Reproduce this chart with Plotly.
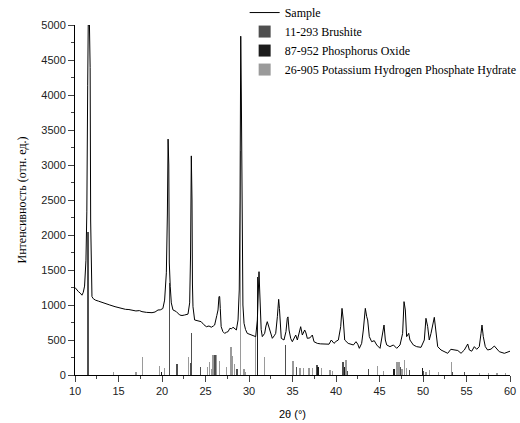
import plotly.graph_objects as go

# Sample XRD pattern (2theta, intensity)
sample_2theta = [10.0, 10.2, 10.4, 10.6, 10.8, 10.95, 11.1, 11.26, 11.36, 11.46, 11.52, 11.66, 11.74, 11.8, 11.88, 11.95,
                 12.1, 12.34, 12.7, 13.0, 13.5, 14.0, 14.6, 15.2, 15.8, 16.2, 16.55, 17.0, 17.4, 17.7, 18.2, 18.85,
                 19.2, 19.54, 19.8, 20.1, 20.3, 20.5, 20.62, 20.7, 20.78, 20.84, 20.95, 21.07, 21.26, 21.65, 22.03,
                 22.3, 22.6, 22.99, 23.18, 23.28, 23.37, 23.45, 23.5, 23.56, 23.75, 24.1, 24.5, 24.8, 25.1, 25.4,
                 25.67, 25.9, 26.05, 26.3, 26.44, 26.55, 26.63, 26.7, 26.8, 27.0, 27.2, 27.4, 27.6, 27.8, 28.0,
                 28.16, 28.35, 28.55, 28.74, 28.88, 28.97, 29.05, 29.12, 29.2, 29.3, 29.43, 29.6, 29.8, 30.1, 30.38,
                 30.6, 30.77, 30.96, 31.08, 31.15, 31.2, 31.3, 31.4, 31.53, 31.8, 31.95, 32.1, 32.25, 32.41, 32.68,
                 32.9, 33.07, 33.26, 33.41, 33.5, 33.6, 33.71, 34.02, 34.25, 34.4, 34.48, 34.6, 34.8, 34.98, 35.2,
                 35.37, 35.56, 35.8, 35.94, 36.13, 36.4, 36.55, 36.7, 37.0, 37.28, 37.47, 37.85, 38.2, 38.62, 39.2,
                 39.46, 39.77, 40.0, 40.27, 40.54, 40.69, 40.84, 41.0, 41.4, 41.7, 42.0, 42.3, 42.5, 42.68, 42.95,
                 43.14, 43.37, 43.53, 43.64, 43.83, 44.1, 44.4, 44.68, 45.06, 45.33, 45.52, 45.67, 45.83, 46.2,
                 46.6, 46.98, 47.36, 47.66, 47.82, 47.97, 48.12, 48.36, 48.5, 48.89, 49.27, 49.77, 50.15, 50.34,
                 50.54, 50.72, 50.92, 51.3, 51.5, 51.69, 52.07, 52.45, 52.84, 53.2, 53.6, 54.0, 54.37, 54.75,
                 55.14, 55.33, 55.6, 55.9, 56.17, 56.47, 56.67, 56.78, 56.93, 57.16, 57.43, 57.82, 58.2, 58.39,
                 58.77, 59.35, 59.6, 60.0]
sample_intensity = [1250, 1210, 1190, 1170, 1140, 1180, 1270, 1640, 2330, 4140, 5000, 5000, 4390, 2200, 1350, 1120,
                    1090, 1070, 1055, 1040, 1024, 1000, 976, 955, 938, 935, 929, 915, 920, 905, 895, 890,
                    900, 929, 930, 950, 1070, 1460, 2300, 3370, 3000, 1600, 1260, 1030, 930, 905, 857,
                    850, 857, 870, 1030, 1700, 3130, 2500, 1300, 976, 786, 770, 762, 720, 690, 700,
                    683, 700, 714, 850, 929, 1120, 1120, 950, 690, 620, 595, 610, 620, 667, 660,
                    683, 660, 643, 786, 1214, 2500, 4840, 4000, 1800, 1000, 738, 650, 595, 580, 571,
                    560, 548, 786, 1200, 1476, 1300, 900, 650, 548, 595, 700, 762, 700, 620, 524,
                    560, 595, 833, 1081, 950, 700, 524, 500, 620, 810, 830, 643, 520, 476, 540,
                    571, 500, 600, 690, 571, 643, 600, 524, 530, 571, 476, 452, 445, 440, 440,
                    500, 452, 480, 500, 690, 952, 786, 500, 452, 440, 429, 476, 440, 381, 452,
                    643, 952, 833, 786, 548, 476, 490, 429, 381, 548, 714, 500, 429, 405,
                    429, 381, 429, 595, 1048, 929, 548, 595, 500, 429, 405, 395, 500, 810,
                    690, 500, 595, 824, 643, 405, 357, 333, 310, 367, 357, 350, 310, 357,
                    443, 357, 340, 405, 367, 405, 595, 714, 548, 405, 357, 370, 414, 381,
                    333, 310, 320, 340]

# Reference card lines
brushite_2theta = [11.5, 20.88, 21.65, 21.8, 23.26, 23.4, 24.45, 26.1, 28.62, 34.2, 35.45, 37.8, 40.8, 41.3,
                   43.7, 47.44, 48.43, 50.04, 53.4, 54.75]
brushite_int = [2050, 1310, 160, 160, 167, 600, 110, 286, 90, 428, 120, 140, 185, 60,
                80, 110, 70, 60, 50, 50]

phosox_2theta = [19.96, 31.0, 37.95, 41.0, 46.67, 49.96]
phosox_int = [40, 1400, 110, 114, 90, 100]

khp_2theta = [14.4, 17.0, 17.78, 19.7, 20.3, 23.05, 25.2, 25.45, 25.7, 25.88, 26.3, 26.63, 27.42, 27.92, 28.14,
              28.33, 29.0, 29.43, 29.6, 30.72, 31.78, 35.05, 35.86, 36.25, 36.9, 37.3, 38.35, 39.3, 39.6, 41.15,
              44.75, 45.44, 46.97, 47.13, 47.28, 47.6, 47.85, 48.12, 50.34, 50.73, 51.76, 53.28, 56.5, 57.5,
              58.5, 59.5]
khp_int = [40, 40, 252, 128, 95, 255, 110, 190, 90, 286, 286, 200, 120, 405, 265,
           160, 3200, 90, 40, 560, 255, 200, 95, 95, 95, 95, 95, 67, 55, 210,
           124, 55, 186, 186, 186, 90, 210, 95, 40, 70, 45, 190, 25, 25,
           25, 25]

fig = go.Figure()
for name, xs, ys, col, rank in [
    ("11-293 Brushite", brushite_2theta, brushite_int, "#4f4f4f", 2),
    ("87-952 Phosphorus Oxide", phosox_2theta, phosox_int, "#1c1c1c", 3),
    ("26-905 Potassium Hydrogen Phosphate Hydrate", khp_2theta, khp_int, "#9a9a9a", 4),
]:
    fig.add_trace(go.Bar(x=xs, y=ys, name=name, width=0.04, marker=dict(color=col, line=dict(width=0)),
                         legendrank=rank))

fig.add_trace(go.Scatter(x=sample_2theta, y=sample_intensity, mode="lines", name="Sample",
                         line=dict(color="black", width=1), legendrank=1))

tick_font = dict(family="Liberation Sans Narrow, Arial Narrow, Liberation Sans, Arial", size=11, color="#222")
fig.update_layout(
    width=520, height=423,
    margin=dict(l=75, r=10, t=25, b=48, autoexpand=False),
    paper_bgcolor="white", plot_bgcolor="white",
    barmode="overlay", bargap=0,
    font=dict(family="Liberation Serif, Times New Roman, serif", size=12, color="black"),
    legend=dict(x=0.39, y=1.077, xanchor="left", yanchor="top", bgcolor="rgba(0,0,0,0)",
                font=dict(family="Liberation Serif, Times New Roman, serif", size=12, color="black"),
                tracegroupgap=0),
    xaxis=dict(range=[10, 60], tickmode="linear", tick0=10, dtick=5, ticks="outside", ticklen=6,
               showline=True, linecolor="black", linewidth=1, showgrid=False, zeroline=False,
               tickfont=tick_font, automargin=False,
               minor=dict(ticks="outside", ticklen=3, dtick=2.5, tick0=10, showgrid=False),
               title=dict(text="2θ (°)", font=dict(family="Liberation Sans, Arial", size=11), standoff=14)),
    yaxis=dict(range=[0, 5000], tickmode="linear", tick0=0, dtick=500, ticks="outside", ticklen=6,
               showline=True, linecolor="black", linewidth=1, showgrid=False, zeroline=False,
               tickfont=tick_font, automargin=False,
               minor=dict(ticks="outside", ticklen=3, dtick=250, tick0=0, showgrid=False),
               title=dict(text="Интенсивность (отн. ед.)", font=dict(family="Liberation Serif, serif", size=12),
                          standoff=12)),
)

fig.write_html("out.html", config={"displayModeBar": False},
               post_script="document.body.style.margin='0';document.body.style.overflow='hidden';")
